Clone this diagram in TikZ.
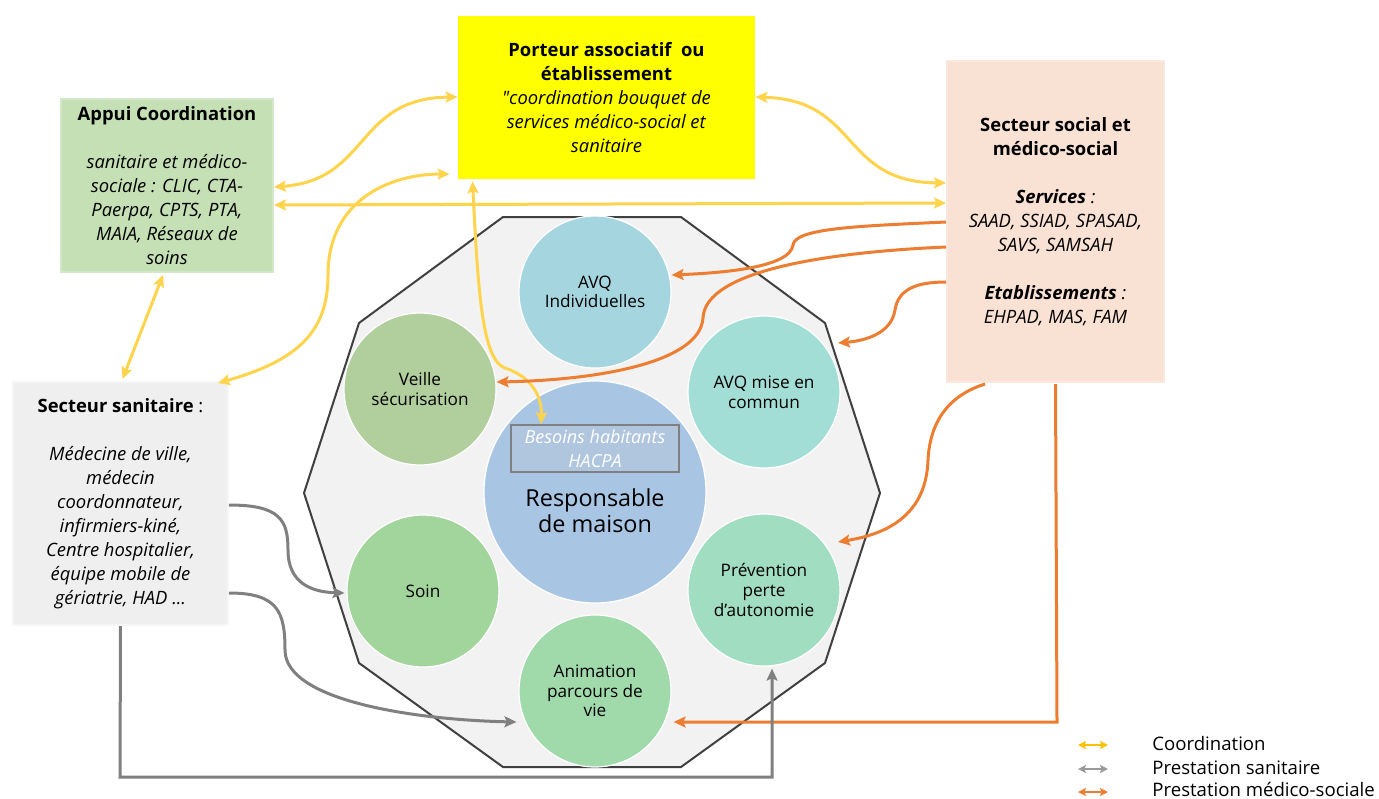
\documentclass[tikz,border=0pt]{standalone}
\usepackage{fontspec}
\setmainfont{Open Sans}
\newfontfamily\qfont{Open Sans}
\usetikzlibrary{arrows.meta}
\definecolor{coordc}{HTML}{FFD44D}
\definecolor{legcoord}{HTML}{FFC000}
\definecolor{medsoc}{HTML}{ED7D31}
\definecolor{sanic}{HTML}{808080}
\definecolor{porteurc}{HTML}{FFFF00}
\definecolor{appuic}{HTML}{C5E0B4}
\definecolor{appuib}{HTML}{D3E8C6}
\definecolor{socialc}{HTML}{F9E1D3}
\definecolor{socialb}{HTML}{FBE8DC}
\definecolor{sanitc}{HTML}{EFEFEF}
\definecolor{sanitb}{HTML}{F6F6F6}
\definecolor{decac}{HTML}{F2F2F2}
\definecolor{decab}{HTML}{404040}
\definecolor{avqi}{HTML}{A5D6E0}
\definecolor{veillec}{HTML}{B1CF9D}
\definecolor{avqc}{HTML}{A2DED6}
\definecolor{soinc}{HTML}{A2D59B}
\definecolor{prevc}{HTML}{A0DDC1}
\definecolor{animc}{HTML}{A0DAAB}
\definecolor{respc}{HTML}{A8C6E4}
\definecolor{besoinc}{HTML}{B0C5DE}
\tikzset{
  box/.style={rectangle, inner sep=0pt, align=center, font=\fontsize{9.2}{12}\selectfont},
  circ/.style={circle, draw=white, line width=0.6pt, minimum size=76pt, inner sep=0pt, align=center, font=\fontsize{8.6}{9.8}\selectfont},
  coordarrow/.style={draw=coordc, line width=1.5pt, {Stealth[length=6pt,width=5.5pt,inset=1.2pt]}-{Stealth[length=6pt,width=5.5pt,inset=1.2pt]}},
  msarrow/.style={draw=medsoc, line width=1.5pt, -{Stealth[length=6pt,width=5.5pt,inset=1.2pt]}},
  saniarrow/.style={draw=sanic, line width=1.5pt, -{Stealth[length=6pt,width=5.5pt,inset=1.2pt]}},
  legarrow/.style={line width=1pt, {Stealth[length=4pt,width=4pt,inset=0.8pt]}-{Stealth[length=4pt,width=4pt,inset=0.8pt]}},
  legtext/.style={anchor=west, inner sep=0pt, font=\fontsize{9.3}{11}\selectfont}
}
\begin{document}
\begin{tikzpicture}[x=0.5pt,y=-0.5pt]
\useasboundingbox (0,0) rectangle (1379,798);
\fill[white] (0,0) rectangle (1379,798);

% decagon
\draw[fill=decac, draw=decab, line width=1pt, line join=miter]
  (503,217) -- (681,217) -- (825,323) -- (880,493) -- (825,663) -- (681,767)
  -- (503,767) -- (359,663) -- (304,493) -- (359,323) -- cycle;

% boxes
\node[box, fill=porteurc, minimum width=148.5pt, minimum height=81.5pt] (porteur) at (606.5,97.5)
  {\textbf{Porteur associatif\ \ ou}\\ \textbf{établissement}\\ \textit{{\qfont\itshape"}coordination bouquet de}\\ \textit{services médico-social et}\\ \textit{sanitaire}};
\node[box, fill=appuic, draw=appuib, line width=1pt, minimum width=106pt, minimum height=86.5pt] (appui) at (167,185.5)
  {\textbf{Appui Coordination}\\[12pt] \textit{sanitaire et médico-}\\ \textit{sociale : CLIC, CTA-}\\ \textit{Paerpa, CPTS, PTA,}\\ \textit{MAIA, Réseaux de}\\ \textit{soins}};
\node[box, fill=socialc, draw=socialb, line width=1pt, minimum width=108.5pt, minimum height=160.5pt] (social) at (1055.5,221.5)
  {\textbf{Secteur social et}\\ \textbf{médico-social}\\[12pt] \textbf{\textit{Services}} \textit{:}\\ \textit{SAAD, SSIAD, SPASAD,}\\ \textit{SAVS, SAMSAH}\\[12pt] \textbf{\textit{Etablissements}} \textit{:}\\ \textit{EHPAD, MAS, FAM}};
\node[box, fill=sanitc, draw=sanitb, line width=1pt, minimum width=107.5pt, minimum height=121.5pt] (sanit) at (120.5,503.5)
  {\textbf{Secteur sanitaire} :\\[12pt] \textit{Médecine de ville,}\\ \textit{médecin}\\ \textit{coordonnateur,}\\ \textit{infirmiers-kiné,}\\ \textit{Centre hospitalier,}\\ \textit{équipe mobile de}\\ \textit{gériatrie, HAD ...}};

% circles
\node[circ, fill=avqi] (avqi) at (595,292) {AVQ\\Individuelles};
\node[circ, fill=veillec] (veille) at (420,389) {Veille\\sécurisation};
\node[circ, fill=avqc] (avqc) at (764,392) {AVQ mise en\\commun};
\node[circ, fill=soinc] (soin) at (423,591) {Soin};
\node[circ, fill=prevc] (prev) at (764,590) {Prévention\\perte\\d’autonomie};
\node[circ, fill=animc] (anim) at (595,691) {Animation\\parcours de\\vie};
\node[circ, fill=respc, minimum size=111pt] (resp) at (595,492) {};
\node[align=center, inner sep=0pt, font=\fontsize{11.7}{13}\selectfont] (resptext) at (595,511) {Responsable\\de maison};
\node[rectangle, fill=besoinc, draw=sanic, line width=0.8pt, minimum width=84pt, minimum height=23.5pt, inner sep=0pt, align=center, text=white, font=\fontsize{9}{12}\selectfont\itshape] (besoins) at (595,448.5) {Besoins habitants\\HACPA};

% coordination (yellow)
\draw[coordarrow] (appui.east |- 0,187) .. controls (370,180) and (355,98) .. (porteur.west |- 0,97);
\draw[coordarrow] (appui.east |- 0,205) -- (social.west |- 0,203);
\draw[coordarrow] ([xshift=-5.5pt,yshift=-1pt]sanit.north east) .. controls (300,360) and (328,330) .. (328,275) .. controls (328,200) and (390,174) .. ([xshift=-4pt]porteur.west |- 0,174);
\draw[coordarrow] ([xshift=-2pt,yshift=-1pt]appui.south) -- ([xshift=1pt,yshift=1pt]sanit.north);
\draw[coordarrow] (porteur.east |- 0,97) .. controls (860,100) and (840,182) .. (social.west |- 0,183);
\draw[coordarrow] ([xshift=-67pt,yshift=-1pt]porteur.south) .. controls (478,290) and (482,360) .. (505,368) .. controls (535,378) and (542,400) .. ([xshift=-27pt]besoins.north);

% medico-social (orange)
\draw[msarrow] (social.west |- 0,222) .. controls (860,226) and (795,228) .. (793,245) .. controls (790,268) and (720,273) .. (avqi.east |- 0,275);
\draw[msarrow] (social.west |- 0,247) .. controls (830,252) and (705,270) .. (703,318) .. controls (700,362) and (600,380) .. (veille.east |- 0,382);
\draw[msarrow] (social.west |- 0,282) .. controls (915,282) and (898,290) .. (895,310) .. controls (891,335) and (862,341) .. (838,343);
\draw[msarrow] (985,384) .. controls (950,395) and (930,420) .. (928,460) .. controls (926,520) and (880,535) .. (838,542);
\draw[msarrow] (social.south |- 0,384) -- (1057,722) -- ([xshift=1pt]anim.east |- 0,722);

% sanitaire (gray)
\draw[saniarrow] (sanit.east |- 0,505) .. controls (280,505) and (288,520) .. (288,550) .. controls (288,582) and (310,592) .. ([xshift=-1pt]soin.west |- 0,593);
\draw[saniarrow] (sanit.east |- 0,593) .. controls (278,593) and (285,612) .. (285,650) .. controls (285,702) and (420,720) .. ([xshift=-1pt]anim.west |- 0,722);
\draw[saniarrow] (sanit.south) -- (120,777) -- (772,777) -- ([yshift=-1pt]prev.south -| 772,0);

% legend
\coordinate (l1a) at (1078,745); \coordinate (l1b) at (1108,745);
\coordinate (l2a) at (1078,769); \coordinate (l2b) at (1108,769);
\coordinate (l3a) at (1078,792); \coordinate (l3b) at (1108,792);
\draw[legarrow, draw=legcoord] (l1a) -- (l1b);
\draw[legarrow, draw=sanic!80] (l2a) -- (l2b);
\draw[legarrow, draw=medsoc] (l3a) -- (l3b);
\node[legtext] (leg1) at (1152,744) {Coordination};
\node[legtext] (leg2) at (1152,768) {Prestation sanitaire};
\node[legtext] (leg3) at (1152,789) {Prestation médico-sociale};
\end{tikzpicture}
\end{document}
